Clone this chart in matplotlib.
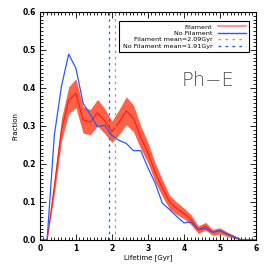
from matplotlib import pyplot as plt
from matplotlib.lines import Line2D
from matplotlib.ticker import MultipleLocator
import numpy as np

lifetime = [0.0, 0.2, 0.4, 0.6, 0.8, 1.0, 1.2, 1.4, 1.6, 1.8, 2.0, 2.2, 2.4, 2.6, 2.8, 3.0,
            3.2, 3.4, 3.6, 3.8, 4.0, 4.2, 4.4, 4.6, 4.8, 5.0, 5.2, 5.4, 5.6, 5.8, 6.0]
filament = [0.0, 0.0, 0.14, 0.29, 0.368, 0.386, 0.316, 0.31, 0.335, 0.313, 0.285, 0.31,
            0.34, 0.32, 0.27, 0.23, 0.178, 0.137, 0.10, 0.083, 0.07, 0.053, 0.027, 0.036,
            0.02, 0.024, 0.015, 0.008, 0.0, 0.0, 0.0]
filament_err = [0.0, 0.0, 0.02, 0.03, 0.035, 0.038, 0.035, 0.033, 0.035, 0.033, 0.028,
                0.033, 0.037, 0.035, 0.03, 0.027, 0.025, 0.022, 0.018, 0.016, 0.014,
                0.013, 0.01, 0.01, 0.008, 0.008, 0.006, 0.004, 0.0, 0.0, 0.0]
no_filament = [0.0, 0.0, 0.275, 0.405, 0.489, 0.452, 0.36, 0.33, 0.298, 0.302, 0.275,
               0.262, 0.254, 0.235, 0.235, 0.19, 0.15, 0.097, 0.08, 0.062, 0.045, 0.047,
               0.027, 0.03, 0.02, 0.025, 0.016, 0.008, 0.0, 0.0, 0.0]
mean_fil = 2.09
mean_nofil = 1.91
label = "Ph\u2212E"

red = (1., 0.1, 0.1)
band = (1., 0.39, 0.28)
blue = (0.15, 0.35, 1.)

fig = plt.figure(figsize=(2.66, 2.66), dpi=100)
ax = fig.add_axes([0.150, 0.098, 0.812, 0.857])

f = np.array(filament)
e = np.array(filament_err)
ax.fill_between(lifetime, f - e, f + e, color=band, lw=0)
ax.plot(lifetime, filament, color=red, lw=.8)
ax.plot(lifetime, no_filament, color=blue, lw=.9)
ax.axvline(mean_nofil, color=blue, lw=.9, ls=(0, (2, 3)))
ax.axvline(mean_fil, color=(1., .45, .45), lw=.9, ls=(0, (2, 3)))

ax.set_xlim(0, 6)
ax.set_ylim(0, 0.6)
ax.xaxis.set_major_locator(MultipleLocator(1))
ax.xaxis.set_minor_locator(MultipleLocator(0.1))
ax.yaxis.set_major_locator(MultipleLocator(0.1))
ax.yaxis.set_minor_locator(MultipleLocator(0.01))
ax.yaxis.set_major_formatter(plt.FuncFormatter(lambda v, p: "%.1f" % v))
ax.tick_params(which='both', direction='in', top=True, right=True, width=.6,
               labelsize=5.5, pad=3)
ax.tick_params(which='major', length=4.5)
ax.tick_params(which='minor', length=2)
for t in ax.get_xticklabels() + ax.get_yticklabels():
    t.set_fontweight('bold')
for s in ax.spines.values():
    s.set_linewidth(.8)

ax.set_xlabel("Lifetime [Gyr]", fontsize=5, labelpad=1)
ax.set_ylabel("Fraction", fontsize=5, labelpad=3)

ax.text(0.78, 0.70, label, transform=ax.transAxes, fontsize=14, color='0.3',
        ha='center', va='center', fontweight='light')

handles = [Line2D([], [], color=(1., .5, .5), lw=1.2),
           Line2D([], [], color=blue, lw=1.),
           Line2D([], [], color=(1., .5, .5), lw=1., ls=(0, (2, 3))),
           Line2D([], [], color=blue, lw=1., ls=(0, (2, 3)))]
names = ["Filament", "No Filament", "Filament mean=%.2fGyr" % mean_fil,
         "No Filament mean=%.2fGyr" % mean_nofil]
leg = ax.legend(handles, names, loc='upper right', fontsize=4.6, markerfirst=False,
                fancybox=False, edgecolor='black', framealpha=1, handlelength=4.5,
                labelspacing=.15, borderpad=.5, handletextpad=.8,
                bbox_to_anchor=(0.985, 0.975))
leg.get_frame().set_linewidth(.8)

fig.savefig("out.png", dpi=100)
